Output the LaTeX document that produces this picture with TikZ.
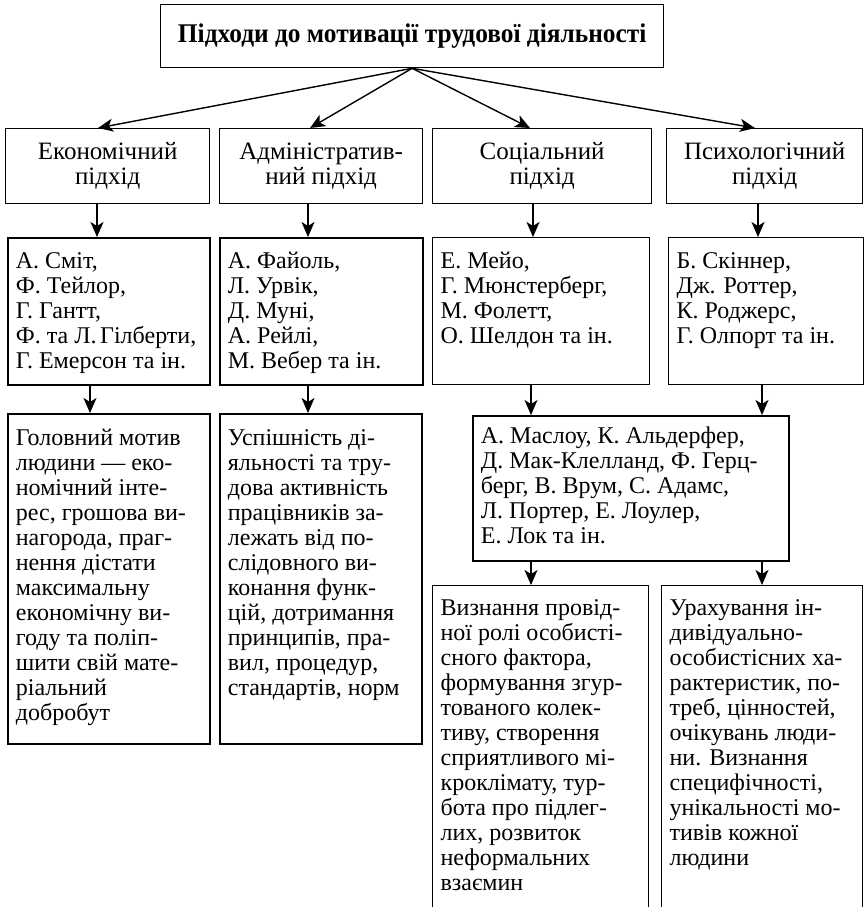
\documentclass[tikz,border=0pt]{standalone}
\usepackage{fontspec}
\setmainfont{Liberation Serif}
\newfontfamily\narrowserif[FakeStretch=0.94]{Liberation Serif}
\usetikzlibrary{arrows.meta}

% text block of a card: width, height, offset of the first baseline, lines
\newcommand\cardbody[4]{\parbox[t][#2][t]{#1}{\raggedright\fontsize{24}{25}\selectfont\rule{0pt}{#3}#4}}

\begin{document}
\begin{tikzpicture}[
  x=1pt, y=-1pt,
  card/.style={draw, line width=1.3pt, inner xsep=8pt, inner ysep=0pt, anchor=north west},
  cardthick/.style={card, line width=1.8pt},
  head/.style={draw, line width=1.3pt, anchor=north west, align=center, inner sep=0pt,
               font=\fontsize{25}{25}\selectfont},
  arr/.style={line width=1.4pt, -{Stealth[length=15pt,width=13pt,inset=4pt]}}
]
\useasboundingbox (0,0) rectangle (865,907);
\clip (0,0) rectangle (865,907);

% columns of the connectors
\coordinate (t1) at (98,0);  \coordinate (t2) at (310,0);
\coordinate (t3) at (530,0); \coordinate (t4) at (755,0);
\coordinate (v1) at (97,0);  \coordinate (v2) at (308,0);
\coordinate (v3) at (533,0); \coordinate (v4) at (758,0);
\coordinate (w1) at (90,0);  \coordinate (w2) at (308,0);
\coordinate (w3) at (531,0); \coordinate (w4) at (762,0);

% title
\node[head, minimum width=503pt, minimum height=63pt,
      font=\narrowserif\bfseries\fontsize{27}{30}\selectfont] (title) at (160,4)
  {Підходи до мотивації трудової діяльності};

% approaches
\node[head, minimum width=204pt, minimum height=75pt] (a1) at (5,128)   {Економічний\\підхід};
\node[head, minimum width=203pt, minimum height=75pt] (a2) at (219,128) {Адміністратив-\\ний підхід};
\node[head, minimum width=219pt, minimum height=75pt] (a3) at (432,128) {Соціальний\\підхід};
\node[head, minimum width=196pt, minimum height=75pt] (a4) at (666,128) {Психологічний\\підхід};

% authors
\node[cardthick] (b1) at (7,237) {\cardbody{186pt}{147pt}{31pt}{А. Сміт,\\Ф. Тейлор,\\Г. Гантт,\\Ф. та Л.\hspace{0.15em}Гілберти,\\Г. Емерсон та ін.}};
\node[cardthick] (b2) at (219,237) {\cardbody{187pt}{147pt}{31pt}{А. Файоль,\\Л. Урвік,\\Д. Муні,\\А. Рейлі,\\М. Вебер та ін.}};
\node[card] (b3) at (432,237) {\cardbody{201pt}{147pt}{31pt}{Е. Мейо,\\Г. Мюнстерберг,\\М. Фолетт,\\О. Шелдон та ін.}};
\node[card] (b4) at (668,237) {\cardbody{179pt}{147pt}{31pt}{Б. Скіннер,\\Дж. Роттер,\\К. Роджерс,\\Г. Олпорт та ін.}};

% essence of the economic and administrative approaches
\node[cardthick] (c1) at (7,413) {\cardbody{186pt}{330pt}{32pt}{Головний мотив\\людини — еко-\\номічний інте-\\рес, грошова ви-\\нагорода, праг-\\нення дістати\\максимальну\\економічну ви-\\году та поліп-\\шити свій мате-\\ріальний\\добробут}};
\node[cardthick] (c2) at (219,413) {\cardbody{186pt}{330pt}{32pt}{Успішність ді-\\яльності та тру-\\дова активність\\працівників за-\\лежать від по-\\слідовного ви-\\конання функ-\\цій, дотримання\\принципів, пра-\\вил, процедур,\\стандартів, норм}};

% shared authors of the social and psychological approaches
\node[cardthick] (m) at (472,415) {\cardbody{300pt}{145pt}{28pt}{А. Маслоу, К. Альдерфер,\\Д. Мак-Клелланд, Ф. Герц-\\берг, В. Врум, С. Адамс,\\Л. Портер, Е. Лоулер,\\Е. Лок та ін.}};

% essence of the social and psychological approaches
\node[card] (d1) at (432,585) {\cardbody{200pt}{340pt}{30pt}{Визнання провід-\\ної ролі особисті-\\сного фактора,\\формування згур-\\тованого колек-\\тиву, створення\\сприятливого мі-\\кроклімату, тур-\\бота про підлег-\\лих, розвиток\\неформальних\\взаємин}};
\node[card] (d2) at (661,585) {\cardbody{185pt}{340pt}{30pt}{Урахування ін-\\дивідуально-\\особистісних ха-\\рактеристик, по-\\треб, цінностей,\\очікувань люди-\\ни. Визнання\\специфічності,\\унікальності мо-\\тивів кожної\\людини}};

% connectors
\draw[arr] (title.south) -- (a1.north -| t1);
\draw[arr] (title.south) -- (a2.north -| t2);
\draw[arr] (title.south) -- (a3.north -| t3);
\draw[arr] (title.south) -- (a4.north -| t4);

\draw[arr] (a1.south -| v1) -- (b1.north -| v1);
\draw[arr] (a2.south -| v2) -- (b2.north -| v2);
\draw[arr] (a3.south -| v3) -- (b3.north -| v3);
\draw[arr] (a4.south -| v4) -- (b4.north -| v4);

\draw[arr] (b1.south -| w1) -- (c1.north -| w1);
\draw[arr] (b2.south -| w2) -- (c2.north -| w2);
\draw[arr] (b3.south -| w3) -- (m.north -| w3);
\draw[arr] (b4.south -| w4) -- (m.north -| w4);

\draw[arr] (m.south -| w3) -- (d1.north -| w3);
\draw[arr] (m.south -| w4) -- (d2.north -| w4);
\end{tikzpicture}
\end{document}
